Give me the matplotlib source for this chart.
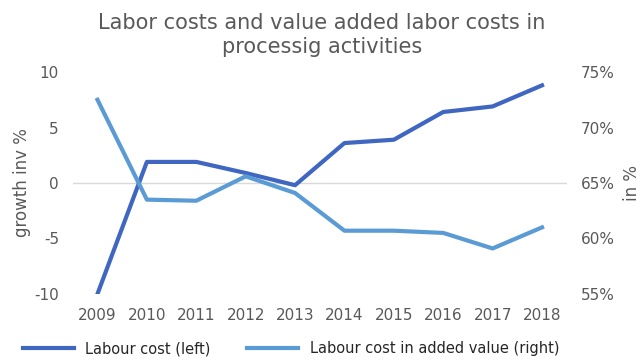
import matplotlib.pyplot as plt

plt.rcParams['axes.unicode_minus'] = False

# data
years = ['2009', '2010', '2011', '2012', '2013', '2014', '2015', '2016', '2017', '2018']
labour_cost = [-10.0, 1.9, 1.9, 0.9, -0.2, 3.6, 3.9, 6.4, 6.9, 8.8]
labour_cost_added_value = [72.5, 63.5, 63.4, 65.6, 64.1, 60.7, 60.7, 60.5, 59.1, 61.0]

left_ticks = [-10, -5, 0, 5, 10]
right_ticks = [55, 60, 65, 70, 75]

dark = '#3F66C0'
light = '#5B9BD5'
grey = '#595959'

fig = plt.figure(figsize=(6.44, 3.62), dpi=100)
ax = fig.add_axes([0.113, 0.188, 0.767, 0.613])
ax2 = ax.twinx()

x = list(range(len(years)))
l1, = ax.plot(x, labour_cost, color=dark, lw=3, label='Labour cost (left)', zorder=3)
l2, = ax2.plot(x, labour_cost_added_value, color=light, lw=3,
               label='Labour cost in added value (right)', zorder=2)

ax.axhline(0, color='#D9D9D9', lw=1, zorder=1)

ax.set_xlim(-0.5, len(years) - 0.5)
ax.set_ylim(-10, 10)
ax2.set_ylim(55, 75)
ax.set_xticks(x)
ax.set_xticklabels(years)
ax.set_yticks(left_ticks)
ax2.set_yticks(right_ticks)
ax2.set_yticklabels([f'{t}%' for t in right_ticks])

for a in (ax, ax2):
    for s in a.spines.values():
        s.set_visible(False)
    a.tick_params(length=0, labelsize=11, colors=grey, pad=10)

ax.set_ylabel('growth inv %', fontsize=12, color=grey, labelpad=2)
ax2.set_ylabel('in %', fontsize=12, color=grey, labelpad=6)

fig.text(0.5, 0.965, 'Labor costs and value added labor costs in\nprocessig activities',
         ha='center', va='top', fontsize=15, color=grey, linespacing=1.3)

fig.legend(handles=[l1, l2], loc='lower left', bbox_to_anchor=(0.015, -0.02), ncol=2,
           frameon=False, fontsize=10.5, handlelength=3.5, columnspacing=2.5,
           labelcolor='#262626')

fig.savefig('out.png', dpi=100)
